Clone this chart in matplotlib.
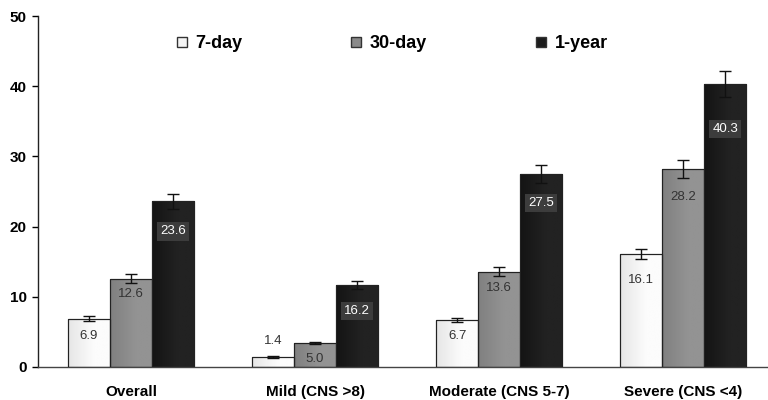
import numpy as np
import matplotlib as mpl
mpl.use('Agg')
import matplotlib.pyplot as plt
from matplotlib.lines import Line2D

plt.rcParams['font.family'] = ['Liberation Sans', 'DejaVu Sans']

groups = ['Overall', 'Mild (CNS >8)', 'Moderate (CNS 5-7)', 'Severe (CNS <4)']
series = ['7-day', '30-day', '1-year']
# bar heights as drawn in the figure (the Mild bars are drawn shorter than their labels)
values = [
    [6.9, 1.4, 6.7, 16.1],
    [12.6, 3.4, 13.6, 28.2],
    [23.6, 11.7, 27.5, 40.3],
]
labels = [
    ['6.9', '1.4', '6.7', '16.1'],
    ['12.6', '5.0', '13.6', '28.2'],
    ['23.6', '16.2', '27.5', '40.3'],
]
errors = [
    [0.3, 0.15, 0.25, 0.7],
    [0.6, 0.15, 0.6, 1.3],
    [1.1, 0.6, 1.3, 1.9],
]
yticks = [0, 10, 20, 30, 40, 50]

# label drop below bar top, in pixels (negative = above the bar)
label_drop = [
    [17, -16, 16, 26],
    [15, 16, 16, 28],
    [30, 26, 29, 45],
]
grad = [('#e6e6e6', '#fcfcfc'), ('#808080', '#939393'), ('#141414', '#222222')]
legend_col = ['#f4f4f4', '#8a8a8a', '#1c1c1c']

fig = plt.figure(figsize=(7.68, 4.0), dpi=100)
ax = fig.add_axes([38/768, 33/400, 730/768, 351/400])

x = np.arange(len(groups))
w = 0.228
for i, s in enumerate(series):
    pos = x + (i - 1) * w
    bars = ax.bar(pos, values[i], w, color='none', edgecolor='#222222',
                  linewidth=0.8, zorder=3)
    c0 = np.array(mpl.colors.to_rgb(grad[i][0]))
    c1 = np.array(mpl.colors.to_rgb(grad[i][1]))
    t = np.linspace(0, 1, 64)
    t = np.minimum(t * 1.6, 1.0)
    img = (c0[None, :] * (1 - t[:, None]) + c1[None, :] * t[:, None])[None, :, :]
    for b in bars:
        im = ax.imshow(img, extent=[b.get_x(), b.get_x() + b.get_width(), 0, b.get_height()],
                       aspect='auto', zorder=2, interpolation='bilinear')
        im.set_clip_path(b)
        ax.add_patch(mpl.patches.Rectangle((b.get_x(), 0), b.get_width(), b.get_height(),
                                           fill=False, edgecolor='#222222', lw=0.8, zorder=4))
    ax.errorbar(pos, values[i], yerr=errors[i], fmt='none', ecolor='#111111',
                elinewidth=1.0, capsize=4.5, capthick=1.0, zorder=5)
    for j, v in enumerate(values[i]):
        drop = label_drop[i][j] * 0.72
        if i == 2:
            ax.annotate(labels[i][j], (pos[j], v), xytext=(0, -drop), textcoords='offset points',
                        ha='center', va='center', fontsize=9.5, color='white', zorder=6,
                        bbox=dict(boxstyle='square,pad=0.25', fc='#3c3c3c', ec='none'))
        else:
            ax.annotate(labels[i][j], (pos[j], v), xytext=(0, -drop), textcoords='offset points',
                        ha='center', va='center', fontsize=9.5, color='#333333', zorder=6)

ax.set_xlim(-0.505, 3.46)
ax.set_ylim(0, 50)
ax.set_yticks(yticks)
ax.set_yticklabels([str(t) for t in yticks], fontsize=11, fontweight='bold')
ax.set_xticks(x)
ax.set_xticklabels(groups, fontsize=11, fontweight='bold')
ax.tick_params(axis='x', length=0, pad=13)
ax.tick_params(axis='y', length=4, width=1, direction='out', pad=4)
for sp in ['top', 'right']:
    ax.spines[sp].set_visible(False)
ax.spines['left'].set_linewidth(1.0)
ax.spines['bottom'].set_linewidth(1.0)
ax.spines['left'].set_color('#222222')
ax.spines['bottom'].set_color('#444444')

handles = [Line2D([], [], marker='s', linestyle='none', markersize=7.5,
                  markerfacecolor=legend_col[i], markeredgecolor='#333333',
                  markeredgewidth=1.0) for i in range(3)]
leg = ax.legend(handles, series, ncol=3, loc='center', bbox_to_anchor=(354/730, (367-44)/351),
                frameon=False, columnspacing=6.0, handletextpad=0.45, handlelength=0.6,
                prop={'weight': 'bold', 'size': 13})

fig.savefig('out.png', dpi=100)
